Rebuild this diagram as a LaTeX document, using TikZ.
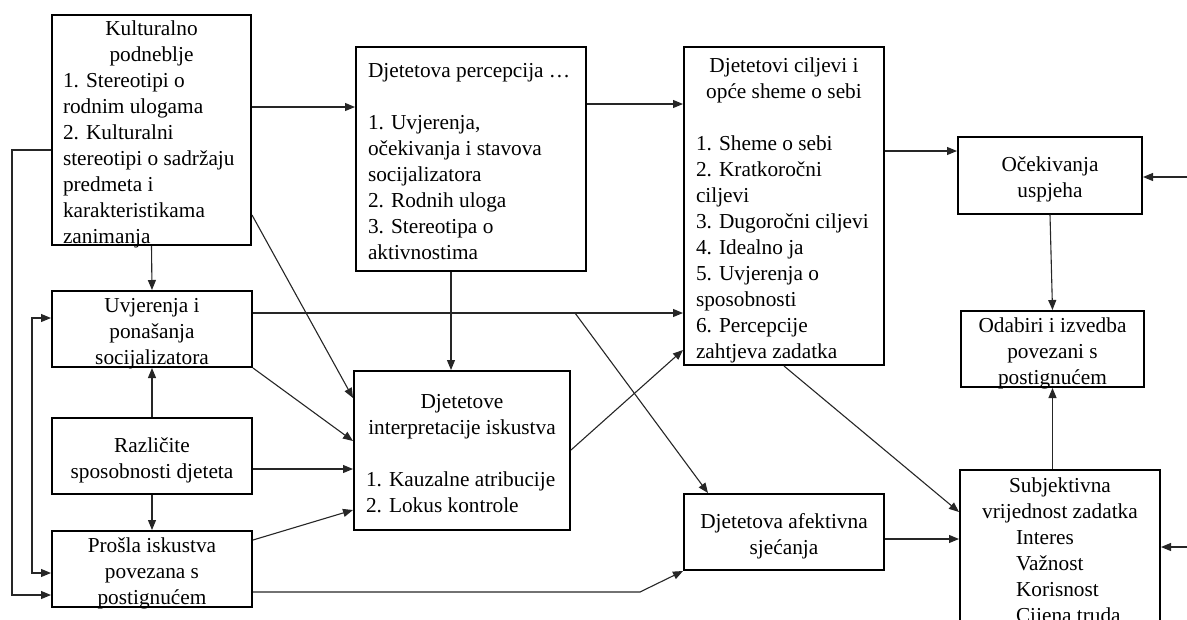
\documentclass[tikz,border=0pt]{standalone}
\usepackage{fontspec}
\setmainfont{Liberation Serif}
\usetikzlibrary{arrows.meta}
\newcommand\myC[1]{\hbox to\hsize{\hfil\strut#1\hfil}}
\newcommand\myL[2][12pt]{\hbox to\hsize{\hskip#1\strut#2\hfil}}
\newcommand\myE{\hbox{\strut}}
\newcommand\bx[3]{\vbox to#2pt{\hsize=#1pt\vss\kern9pt#3\vss}}
\begin{document}
\begin{tikzpicture}[x=1pt,y=-1pt,
  box/.style={draw=black, line width=2pt, inner sep=0pt, font=\fontsize{21.3}{26}\selectfont},
  conn/.style={draw=black!85, line width=1.1pt, -{Triangle[length=10pt,width=8pt]}},
  conn2/.style={draw=black!85, line width=1.1pt, {Triangle[length=10pt,width=8pt]}-{Triangle[length=10pt,width=8pt]}}]
\useasboundingbox (0,0) rectangle (1187,619);
\clip (0,0) rectangle (1187,619);
\node[box] (A) at (151.5,130) {\bx{199}{230}{\myC{Kulturalno}\myC{podneblje}\myL[11pt]{1. Stereotipi o}\myL[11pt]{rodnim ulogama}\myL[11pt]{2. Kulturalni}\myL[11pt]{stereotipi o sadržaju}\myL[11pt]{predmeta i}\myL[11pt]{karakteristikama}\myL[11pt]{zanimanja}}};
\node[box] (B) at (471,159) {\bx{230}{224}{\myL{Djetetova percepcija …}\myE\myL{1. Uvjerenja,}\myL{očekivanja i stavova}\myL{socijalizatora}\myL{2. Rodnih uloga}\myL{3. Stereotipa o}\myL{aktivnostima}}};
\node[box] (C) at (784,206) {\bx{200}{318}{\myC{Djetetovi ciljevi i}\myC{opće sheme o sebi}\myE\myL{1. Sheme o sebi}\myL{2. Kratkoročni}\myL{ciljevi}\myL{3. Dugoročni ciljevi}\myL{4. Idealno ja}\myL{5. Uvjerenja o}\myL{sposobnosti}\myL{6. Percepcije}\myL{zahtjeva zadatka}}};
\node[box] (D) at (1050,175) {\bx{184}{77}{\myC{Očekivanja}\myC{uspjeha}}};
\node[box] (E) at (1052.5,349) {\bx{183}{76}{\myC{Odabiri i izvedba}\myC{povezani s}\myC{postignućem}}};
\node[box] (F) at (152,329) {\bx{200}{76}{\myC{Uvjerenja i}\myC{ponašanja}\myC{socijalizatora}}};
\node[box] (G) at (462,450.5) {\bx{216}{159}{\myC{Djetetove}\myC{interpretacije iskustva}\myE\myL{1. Kauzalne atribucije}\myL{2. Lokus kontrole}}};
\node[box] (H) at (152,456) {\bx{200}{76}{\myC{Različite}\myC{sposobnosti djeteta}}};
\node[box] (I) at (152,569) {\bx{200}{76}{\myC{Prošla iskustva}\myC{povezana s}\myC{postignućem}}};
\node[box] (J) at (784,532) {\bx{200}{76}{\myC{Djetetova afektivna}\myC{sjećanja}}};
\node[box, anchor=north] (K) at (1060,469) {\vbox to 240pt{\hsize=200pt\kern4pt\myC{Subjektivna}\myC{vrijednost zadatka}\myL[56pt]{Interes}\myL[56pt]{Važnost}\myL[56pt]{Korisnost}\myL[56pt]{Cijena truda}\vfil}};
\draw[conn] (A.east|-0,107) -- (B.west|-0,107);
\draw[conn] (B.east|-0,104) -- (C.west|-0,104);
\draw[conn] (C.east|-0,151) -- (D.west|-0,151);
\coordinate (rD) at (1187,177);
\draw[conn] (rD) -- (D.east|-rD);
\draw[conn] (D.south) -- (E.north);
\draw[conn] (E.south|-K.north) -- (E.south);
\coordinate (rK) at (1187,547);
\draw[conn] (rK) -- (K.east|-rK);
\draw[conn] (C.south) -- (K.west|-0,512);
\draw[conn] (J.east|-0,539) -- (K.west|-0,539);
\draw[conn] (A.south) -- (F.north);
\draw[conn] (H.north) -- (F.south);
\draw[conn] (H.south) -- (I.north);
\draw[conn] (A.west|-0,150) -- (12,150) -- (12,595) -- (I.west|-0,595);
\draw[conn2] (F.west|-0,318) -- (32,318) -- (32,573) -- (I.west|-0,573);
\draw[conn] (A.east|-0,215) -- (G.west|-0,398);
\draw[conn] (F.south east) -- (G.west|-0,441);
\draw[conn] (H.east|-0,469) -- (G.west|-0,469);
\draw[conn] (I.east|-0,540) -- (G.west|-0,510);
\draw[conn] (B.south-|451,0) -- (G.north-|451,0);
\draw[conn] (F.east|-0,313) -- (C.west|-0,313);
\coordinate (br) at (575,313);
\draw[conn] (br) -- (J.north-|708,0);
\draw[conn] (G.east|-0,450) -- (C.west|-0,350);
\draw[conn] (I.east|-0,592) -- (640,592) -- (J.south west);
\end{tikzpicture}
\end{document}
